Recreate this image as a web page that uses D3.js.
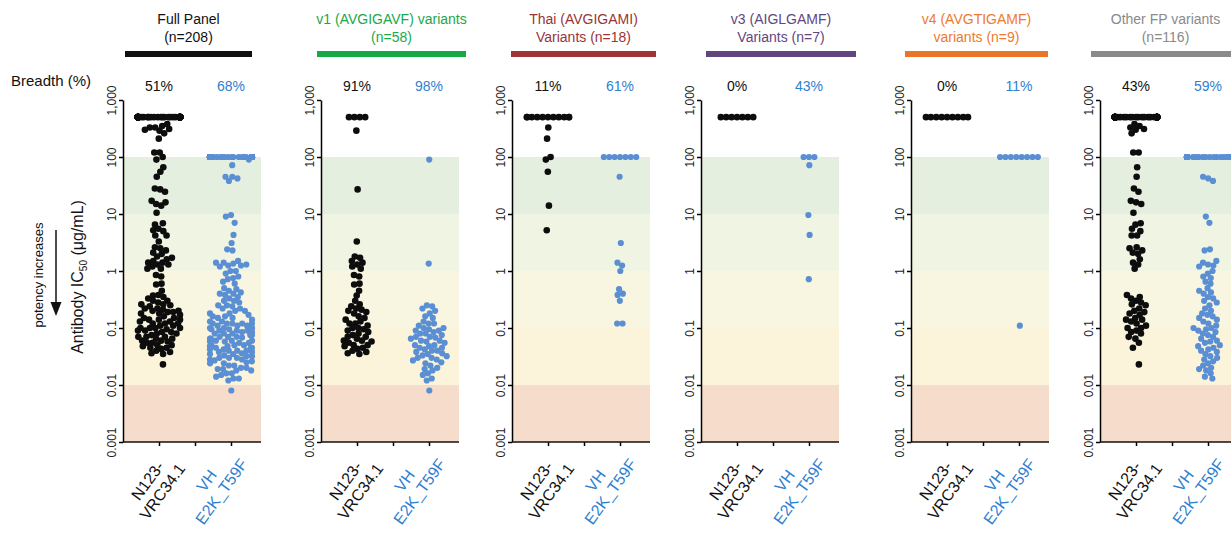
<!DOCTYPE html>
<html>
<head>
<meta charset="utf-8">
<script src="https://cdn.jsdelivr.net/npm/d3@7"></script>
<style>
  body { margin: 0; background: #fff; }
  svg { display: block; font-family: Arial, "Liberation Sans", sans-serif; }
</style>
</head>
<body>
<div id="graph"></div>
<script>
// 标题和广度
const titleLine1 = ["Full Panel", "v1 (AVGIGAVF) variants", "Thai (AVGIGAMI)", "v3 (AIGLGAMF)", "v4 (AVGTIGAMF)", "Other FP variants"]
const titleLine2 = ["(n=208)", "(n=58)", "Variants (n=18)", "Variants (n=7)", "variants (n=9)", "(n=116)"]
const breadthVRC = ["51%", "91%", "11%", "0%", "0%", "43%"]
const breadthVH = ["68%", "98%", "61%", "43%", "11%", "59%"]
const antibodies = ["N123-VRC34.1", "VH E2K_T59F"]
const abLabels = [["N123-", "VRC34.1"], ["VH", "E2K_T59F"]]
const yTicks = [1000, 100, 10, 1, 0.1, 0.01, 0.001]
const yTickLabels = ["1,000", "100", "10", "1", "0.1", "0.01", "0.001"]
const bandEdges = [100, 10, 1, 0.1, 0.01, 0.001]

// IC50 values (μg/mL), 500 = not neutralized
const v1VRC = [500, 500, 500, 500, 290, 27, 3.3, 1.8, 1.7, 1.5, 1.4, 1.3, 1.2, 1.1, 0.85, 0.8, 0.6, 0.58, 0.45, 0.37,
  0.3, 0.26, 0.24, 0.22, 0.21, 0.2, 0.19, 0.18, 0.16, 0.15, 0.14, 0.13, 0.12, 0.12, 0.11, 0.1, 0.1, 0.095, 0.09, 0.085,
  0.08, 0.075, 0.07, 0.07, 0.065, 0.06, 0.06, 0.058, 0.055, 0.05, 0.05, 0.048, 0.045, 0.043, 0.04, 0.038, 0.036, 0.035]
const v1VH = [90, 1.35, 0.25, 0.24, 0.22, 0.2, 0.18, 0.16, 0.15, 0.13, 0.12, 0.12, 0.11, 0.1, 0.1, 0.095, 0.09, 0.09, 0.085, 0.08,
  0.08, 0.075, 0.07, 0.07, 0.068, 0.065, 0.06, 0.06, 0.058, 0.055, 0.05, 0.05, 0.048, 0.045, 0.045, 0.042, 0.04, 0.04, 0.038, 0.036,
  0.035, 0.033, 0.032, 0.03, 0.03, 0.028, 0.027, 0.025, 0.024, 0.022, 0.02, 0.019, 0.018, 0.016, 0.015, 0.013, 0.012, 0.008]
const thaiVRC = [500, 500, 500, 500, 500, 500, 500, 500, 500, 500, 500, 330, 210, 100, 90, 55, 14, 5.2]
const thaiVH = [100, 100, 100, 100, 100, 100, 100, 45, 3.1, 1.4, 1.25, 1.0, 0.48, 0.4, 0.38, 0.3, 0.12, 0.12]
const v3VRC = [500, 500, 500, 500, 500, 500, 500]
const v3VH = [100, 100, 100, 72, 9.6, 4.3, 0.72]
const v4VRC = [500, 500, 500, 500, 500, 500, 500, 500, 500]
const v4VH = [100, 100, 100, 100, 100, 100, 100, 100, 0.11]
const otherVRC = [500, 500, 500, 500, 500, 500, 500, 500, 500, 500, 500, 500, 500, 500, 500, 500, 500, 500, 500, 500,
  500, 500, 500, 500, 500, 500, 500, 500, 500, 500, 500, 500, 500, 500, 500, 500, 500, 500, 500, 500,
  500, 500, 500, 500, 500, 500, 500, 500, 500, 500, 500, 500, 500, 500, 500, 500, 500,
  380, 350, 330, 310, 300, 260, 120, 120, 66,
  45, 28, 24.5, 17, 16, 15, 10.5, 6.9, 6.5, 5.5, 5, 4.2, 4.2, 2.6, 2.5, 2.3, 2.1, 2.0, 1.6, 1.4, 1.3, 1.1,
  0.38, 0.35, 0.33, 0.3, 0.28, 0.26, 0.25, 0.22, 0.2, 0.19, 0.18, 0.17, 0.15, 0.14, 0.14, 0.13, 0.12, 0.11, 0.1, 0.1,
  0.09, 0.085, 0.08, 0.07, 0.065, 0.055, 0.045, 0.023]
const otherVH = [100, 100, 100, 100, 100, 100, 100, 100, 100, 100, 100, 100, 100, 100, 100, 100, 100, 100, 100, 100,
  100, 100, 100, 100, 100, 100, 100, 100, 100, 100, 100, 100, 100, 100, 100, 100, 100, 100, 100, 100,
  100, 100, 100, 100, 100, 100, 100, 100,
  45, 42, 38, 9, 7, 2.4, 2.3, 1.5, 1.4, 1.3, 1.25, 1.2, 1.0, 0.9, 0.8, 0.75, 0.65, 0.6, 0.5, 0.45,
  0.42, 0.4, 0.35, 0.33, 0.3, 0.28, 0.25, 0.22, 0.2, 0.18, 0.17, 0.16, 0.15, 0.14, 0.13, 0.12, 0.11, 0.1, 0.1, 0.095,
  0.09, 0.085, 0.08, 0.075, 0.07, 0.065, 0.06, 0.058, 0.055, 0.05, 0.048, 0.045, 0.042, 0.04, 0.038, 0.035, 0.032, 0.03, 0.028, 0.026,
  0.024, 0.022, 0.02, 0.019, 0.018, 0.016, 0.014, 0.013]
// Full panel = all variant groups
const fullVRC = [].concat(v1VRC, thaiVRC, v3VRC, v4VRC, otherVRC)
const fullVH = [].concat(v1VH, thaiVH, v3VH, v4VH, otherVH)

const panelData = [
  [fullVRC, fullVH], [v1VRC, v1VH], [thaiVRC, thaiVH], [v3VRC, v3VH], [v4VRC, v4VH], [otherVRC, otherVH]
]

// 布局
const W = 1231, H = 538
const panelX = [123, 321, 512, 701, 911, 1100]
const panelW = 138
const barX = [[125, 252], [317, 466], [511, 656], [706, 856], [905, 1048], [1091, 1240]]
const titleColor = ["#111", "#1ba84a", "#9a3535", "#634582", "#ee7b2c", "#8a8a8a"]
const barColor = ["#111", "#15a844", "#9e3434", "#61457e", "#ec7428", "#8b8989"]
const bandColor = ["#e4efdf", "#f0f4e3", "#f8f5e0", "#fbf4da", "#f6dccb"]
const blueDot = "#5b8fd3", blueText = "#2f80cf"
const labelShift = [-7, -20]

const svg = d3.select("#graph").append("svg").attr("width", W).attr("height", H)

const y = d3.scaleLog().domain([0.001, 1000]).range([442, 100])
const x = d3.scalePoint().domain([antibodies[0], "", antibodies[1]]).range([36, 108])

// 力学布局做抖动，防止点完全重叠
function jitter(values, cx) {
  const nodes = values.map(v => ({ v: v, fy: y(v) }))
  const sim = d3.forceSimulation(nodes)
    .force("x", d3.forceX(0).strength(0.05))
    .force("collide", d3.forceCollide(2.7))
    .stop()
  for (let i = 0; i < 300; i++) sim.tick()
  nodes.forEach(d => { d.px = cx + Math.max(-21, Math.min(21, d.x)) })
  return nodes
}

// 左侧标签
svg.append("text").attr("x", 11).attr("y", 86).attr("font-size", 15).attr("fill", "#111").text("Breadth (%)")
svg.append("text")
  .attr("transform", "translate(43,275) rotate(-90)")
  .attr("text-anchor", "middle").attr("font-size", 13).attr("fill", "#111")
  .text("potency increases")
svg.append("line").attr("x1", 56).attr("x2", 56).attr("y1", 230).attr("y2", 303)
  .attr("stroke", "#111").attr("stroke-width", 1.5)
svg.append("path").attr("d", "M50.5,302 L61.5,302 L56,316 Z").attr("fill", "#111")
const axTitle = svg.append("text")
  .attr("transform", "translate(83,277) rotate(-90)")
  .attr("text-anchor", "middle").attr("font-size", 16).attr("fill", "#111")
axTitle.append("tspan").text("Antibody IC")
axTitle.append("tspan").attr("font-size", 10).attr("dy", 4).text("50")
axTitle.append("tspan").attr("dy", -4).text(" (μg/mL)")

panelData.forEach((pd, p) => {
  const g = svg.append("g").attr("transform", `translate(${panelX[p]},0)`)
  const bx = barX[p]
  const bc = (bx[0] + bx[1]) / 2 - panelX[p]

  // 标题
  g.append("text").attr("x", bc).attr("y", 24).attr("text-anchor", "middle")
    .attr("font-size", 14).attr("fill", titleColor[p]).text(titleLine1[p])
  g.append("text").attr("x", bc).attr("y", 42).attr("text-anchor", "middle")
    .attr("font-size", 14).attr("fill", titleColor[p]).text(titleLine2[p])
  g.append("rect").attr("x", bx[0] - panelX[p]).attr("y", 51).attr("width", bx[1] - bx[0]).attr("height", 6)
    .attr("fill", barColor[p])

  // 广度
  g.append("text").attr("x", x(antibodies[0])).attr("y", 91).attr("text-anchor", "middle")
    .attr("font-size", 14).attr("fill", "#111").text(breadthVRC[p])
  g.append("text").attr("x", x(antibodies[1])).attr("y", 91).attr("text-anchor", "middle")
    .attr("font-size", 14).attr("fill", blueText).text(breadthVH[p])

  // 背景色带
  g.selectAll(".band").data(bandColor).enter().append("rect")
    .attr("x", 0).attr("width", panelW)
    .attr("y", (c, i) => y(bandEdges[i]))
    .attr("height", (c, i) => y(bandEdges[i + 1]) - y(bandEdges[i]))
    .attr("fill", c => c)

  // 点
  const black = jitter(pd[0], x(antibodies[0]))
  const blue = jitter(pd[1], x(antibodies[1]))
  g.append("g").selectAll("circle").data(black).enter().append("circle")
    .attr("cx", d => d.px).attr("cy", d => y(d.v)).attr("r", 3.3).attr("fill", "#0d0d0d")
  g.append("g").selectAll("circle").data(blue).enter().append("circle")
    .attr("cx", d => d.px).attr("cy", d => y(d.v)).attr("r", 3.1).attr("fill", blueDot)

  // Y 轴
  const ya = g.append("g").call(d3.axisLeft(y).tickValues(yTicks)
    .tickFormat((d, i) => yTickLabels[i]).tickSize(4).tickSizeOuter(0))
  ya.select(".domain").attr("stroke-width", 1.5)
  ya.selectAll("line").attr("stroke-width", 1.5)
  ya.selectAll("text")
    .attr("transform", "rotate(-90)").attr("x", 0).attr("y", -7).attr("dy", 0)
    .attr("text-anchor", "middle").attr("font-size", 12).attr("fill", "#222")
    .attr("font-family", "Arial, 'Liberation Sans', sans-serif")

  // X 轴
  const xa = g.append("g").attr("transform", `translate(0,${y(0.001)})`)
    .call(d3.axisBottom(x).tickSize(4).tickFormat(""))
  xa.select(".domain").remove()
  xa.selectAll("line").attr("stroke-width", 1.5)
  xa.append("line").attr("x1", 0).attr("x2", panelW).attr("stroke", "#111").attr("stroke-width", 1.5)

  // X 标签
  antibodies.forEach((ab, i) => {
    const t = g.append("text")
      .attr("transform", `translate(${x(ab) + labelShift[i]},484) rotate(-54)`)
      .attr("text-anchor", "middle").attr("font-size", 16)
      .attr("fill", i === 0 ? "#111" : blueText)
    t.append("tspan").attr("x", 0).attr("dy", 0).text(abLabels[i][0])
    t.append("tspan").attr("x", 0).attr("dy", "1.15em").text(abLabels[i][1])
  })
})
</script>
</body>
</html>
